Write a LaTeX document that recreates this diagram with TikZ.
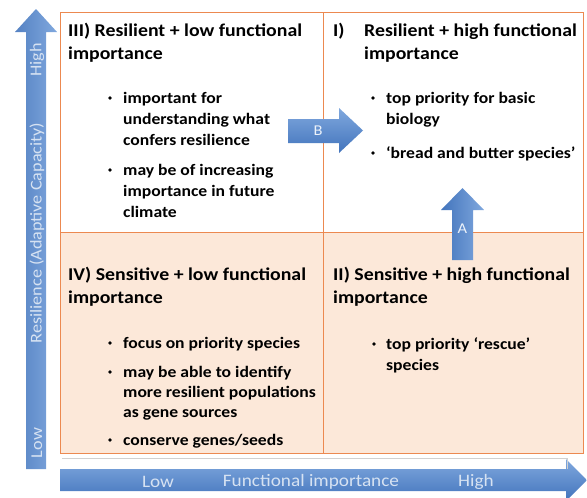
\documentclass[tikz,border=0pt]{standalone}
\usepackage{fontspec}
\setmainfont{Carlito}[FakeStretch=1.1]

\definecolor{quadline}{RGB}{236,137,80}
\definecolor{quadpeach}{RGB}{252,232,217}
\definecolor{arrowlight}{RGB}{128,168,222}
\definecolor{arrowdark}{RGB}{66,116,188}
\definecolor{axistext}{RGB}{214,226,242}
\newcommand{\headsize}{\fontsize{18}{23}\selectfont\bfseries}
\newcommand{\itemsize}{\fontsize{16}{21}\selectfont\bfseries}
% stacked lines, first baseline on the node's base
\newcommand{\lines}[1]{\begin{tabular}[t]{@{}l@{}}#1\end{tabular}}

\tikzset{
  quad/.style={draw=quadline, line width=1pt, anchor=north west, inner sep=0pt, outer sep=0pt},
  headtext/.style={anchor=base west, inner sep=0pt, font=\headsize},
  itemtext/.style={anchor=base west, inner sep=0pt, font=\itemsize},
  axislabel/.style={text=axistext, inner sep=0pt, font=\fontsize{17.5}{17.5}\selectfont},
  sidelabel/.style={axislabel, rotate=90, font=\fontsize{16.5}{16.5}\selectfont},
  bluearrow/.style={top color=arrowlight, bottom color=arrowdark, draw=none},
}

\begin{document}
\begin{tikzpicture}[x=1pt, y=-1pt]
  \useasboundingbox (0,0) rectangle (587,498);
  \clip (0,0) rectangle (587,498);

  % axis arrows
  \shade[left color=arrowdark!90, right color=arrowlight] (26,469) -- (26,32) -- (15,32) -- (36,9) -- (57,32) -- (46,32) -- (46,469) -- cycle;
  \shade[bluearrow] (60,469) -- (566,469) -- (566,459) -- (587,480) -- (566,501) -- (566,491) -- (60,491) -- cycle;
  \node[sidelabel] (resHigh) at (37,60) {High};
  \node[sidelabel] (resName) at (37,233) {Resilience (Adaptive Capacity)};
  \node[sidelabel] (resLow) at (37,443) {Low};
  \node[axislabel] (funLow) at (158,482) {Low};
  \node[axislabel] (funName) at (311,482) {Functional importance};
  \node[axislabel] (funHigh) at (476,482) {High};

  % quadrants
  \draw[black!18] (62,458) -- (567,458) -- (567,469);
  \node[quad, fill=white, minimum width=263, minimum height=220] (quadIII) at (60,12) {};
  \node[quad, fill=white, minimum width=260, minimum height=220] (quadI) at (323,12) {};
  \node[quad, fill=quadpeach, minimum width=263, minimum height=221] (quadIV) at (60,232) {};
  \node[quad, fill=quadpeach, minimum width=260, minimum height=221] (quadII) at (323,232) {};

  % III
  \node[headtext] (headIII) at (68,36) {\lines{III) Resilient + low functional\\importance}};
  \node[itemtext] (itemIIIa) at (123,103) {\lines{important for\\understanding what\\confers resilience}};
  \node[itemtext] (itemIIIb) at (123,175) {\lines{may be of increasing\\importance in future\\climate}};
  % I
  \node[headtext] (numI) at (333,36) {I)};
  \node[headtext] (headI) at (364,36) {\lines{Resilient + high functional\\importance}};
  \node[itemtext] (itemIa) at (386,103) {\lines{top priority for basic\\biology}};
  \node[itemtext] (itemIb) at (386,158) {‘bread and butter species’};
  % IV
  \node[headtext] (headIV) at (68,280) {\lines{IV) Sensitive + low functional\\importance}};
  \node[itemtext] (itemIVa) at (123,348) {focus on priority species};
  \node[itemtext, font=\fontsize{16}{20}\selectfont\bfseries] (itemIVb) at (123,377) {\lines{may be able to identify\\more resilient populations\\as gene sources}};
  \node[itemtext] (itemIVc) at (123,445) {conserve genes/seeds};
  % II
  \node[headtext] (headII) at (333,280) {\lines{II) Sensitive + high functional\\importance}};
  \node[itemtext] (itemIIa) at (386,349) {\lines{top priority ‘rescue’\\species}};

  \foreach \bx/\by in {110/103, 110/175, 373/103, 373/158, 110/348, 110/377, 110/445, 374/349}
    \fill (\bx,\by-5) circle (1.8pt);

  % transitions
  \shade[bluearrow] (288,119) -- (339,119) -- (339,108) -- (363,130.5) -- (339,153) -- (339,143) -- (288,143) -- cycle;
  \node[axislabel, text=white!85!arrowlight, font=\fontsize{15}{15}\selectfont] (markB) at (318,131) {B};
  \shade[left color=arrowdark, right color=arrowlight] (452,260) -- (452,210) -- (441,210) -- (462.5,188) -- (484,210) -- (473,210) -- (473,260) -- cycle;
  \node[axislabel, text=white!85!arrowlight, font=\fontsize{15}{15}\selectfont] (markA) at (462.5,229) {A};
\end{tikzpicture}
\end{document}
